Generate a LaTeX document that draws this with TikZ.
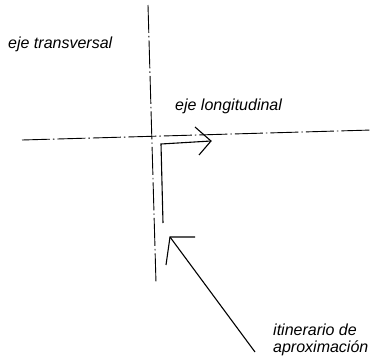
\documentclass[tikz,border=0pt]{standalone}
\usepackage{fontspec}
\setmainfont{Liberation Sans}
\begin{document}
\begin{tikzpicture}[x=1pt,y=-1pt,
  axis/.style={line width=0.9pt,dash pattern=on 28pt off 3pt on 1.5pt off 3pt},
  route/.style={line width=1.1pt},
  lbl/.style={font=\itshape\fontsize{16}{17}\selectfont,inner sep=0pt,align=left}]
\useasboundingbox (0,0) rectangle (391,364);
% axes
\coordinate (vt) at (148,5);
\coordinate (vb) at (156,283);
\coordinate (hl) at (22,140);
\coordinate (hr) at (372,130);
\draw[axis] (vt) -- (vb);
\draw[axis] (hl) -- (hr);
% route to axis
\coordinate (rs) at (163,223);
\coordinate (rc) at (161,144);
\coordinate (rt) at (211,141);
\coordinate (ra1) at (195,127);
\coordinate (ra2) at (199,155);
\draw[route] (rs) -- (rc) -- (rt);
\draw[route] (ra1) -- (rt) -- (ra2);
% approach arrow
\coordinate (at) at (170,237);
\coordinate (ah1) at (195,237);
\coordinate (ah2) at (166,265);
\coordinate (ae) at (255,352);
\draw[route] (ae) -- (at);
\draw[route] (ah1) -- (at) -- (ah2);
% labels
\node[lbl,anchor=west] (tl) at (8,44) {eje transversal};
\node[lbl,anchor=west] (ll) at (175,106) {eje longitudinal};
\node[lbl,anchor=west] (il) at (273,340) {itinerario de\\aproximación};
\end{tikzpicture}
\end{document}
